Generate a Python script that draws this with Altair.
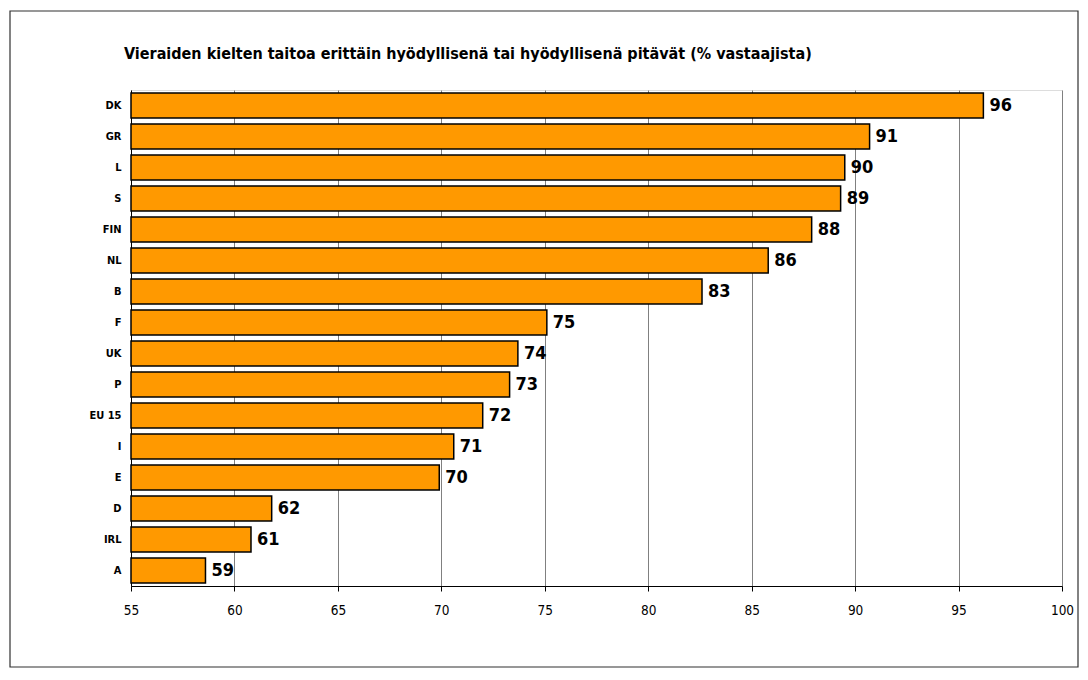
import altair as alt
import pandas as pd

countries = ["DK", "GR", "L", "S", "FIN", "NL", "B", "F", "UK", "P",
             "EU 15", "I", "E", "D", "IRL", "A"]
values = [96.2, 90.7, 89.5, 89.3, 87.9, 85.8, 82.6, 75.1, 73.7, 73.3,
          72.0, 70.6, 69.9, 61.8, 60.8, 58.6]
labels = ["96", "91", "90", "89", "88", "86", "83", "75", "74", "73",
          "72", "71", "70", "62", "61", "59"]
x_ticks = [55, 60, 65, 70, 75, 80, 85, 90, 95, 100]
title_text = "Vieraiden kielten taitoa erittäin hyödyllisenä tai hyödyllisenä pitävät (% vastaajista)"

df = pd.DataFrame({"country": countries, "value": values, "label": labels})
one = pd.DataFrame({"t": [title_text]})

NARROW = "Liberation Sans Narrow, Arial Narrow, DejaVu Sans Condensed, Liberation Sans"

y_enc = alt.Y("country:N", sort=countries,
              scale=alt.Scale(paddingInner=0.2, paddingOuter=0.1),
              axis=alt.Axis(title=None, ticks=False, labelPadding=10,
                            labelFont=NARROW, labelFontSize=11, labelFontWeight="bold",
                            labelColor="black", domainColor="black", domainWidth=1,
                            grid=False))
x_enc = alt.X("value:Q", scale=alt.Scale(domain=[55, 100], nice=False, zero=False),
              axis=alt.Axis(title=None, values=x_ticks, grid=True, gridColor="#808080",
                            gridWidth=1, tickColor="black", tickSize=5, labelPadding=12,
                            labelFlush=False, labelFont=NARROW, labelFontSize=13.5,
                            labelColor="black", domainColor="black", domainWidth=1))

bars = alt.Chart(df).mark_bar(color="#FF9900", stroke="black", strokeWidth=1.5).encode(
    x=x_enc, x2=alt.datum(55), y=y_enc)

text = alt.Chart(df).mark_text(align="left", baseline="middle", dx=6, font=NARROW,
                               fontSize=18, fontWeight="bold", color="black").encode(
    x="value:Q", y=alt.Y("country:N", sort=countries), text="label:N")

title = alt.Chart(one).mark_text(align="left", baseline="alphabetic", font=NARROW,
                                 fontSize=16, fontWeight="bold", color="black").encode(
    x=alt.value(-7), y=alt.value(-31), text="t:N")

frame = alt.Chart(one).mark_rect(filled=False, stroke="#303030", strokeWidth=1.2).encode(
    x=alt.value(-121), x2=alt.value(947), y=alt.value(-79), y2=alt.value(577))

chart = alt.layer(bars, text, title, frame).properties(
    width=931, height=496,
    autosize=alt.AutoSizeParams(type="none"),
    padding={"left": 123, "top": 82, "right": 18, "bottom": 84},
).configure_view(stroke=None).configure(background="white")

chart.save("out.html", embed_options={"renderer": "svg", "actions": False})
